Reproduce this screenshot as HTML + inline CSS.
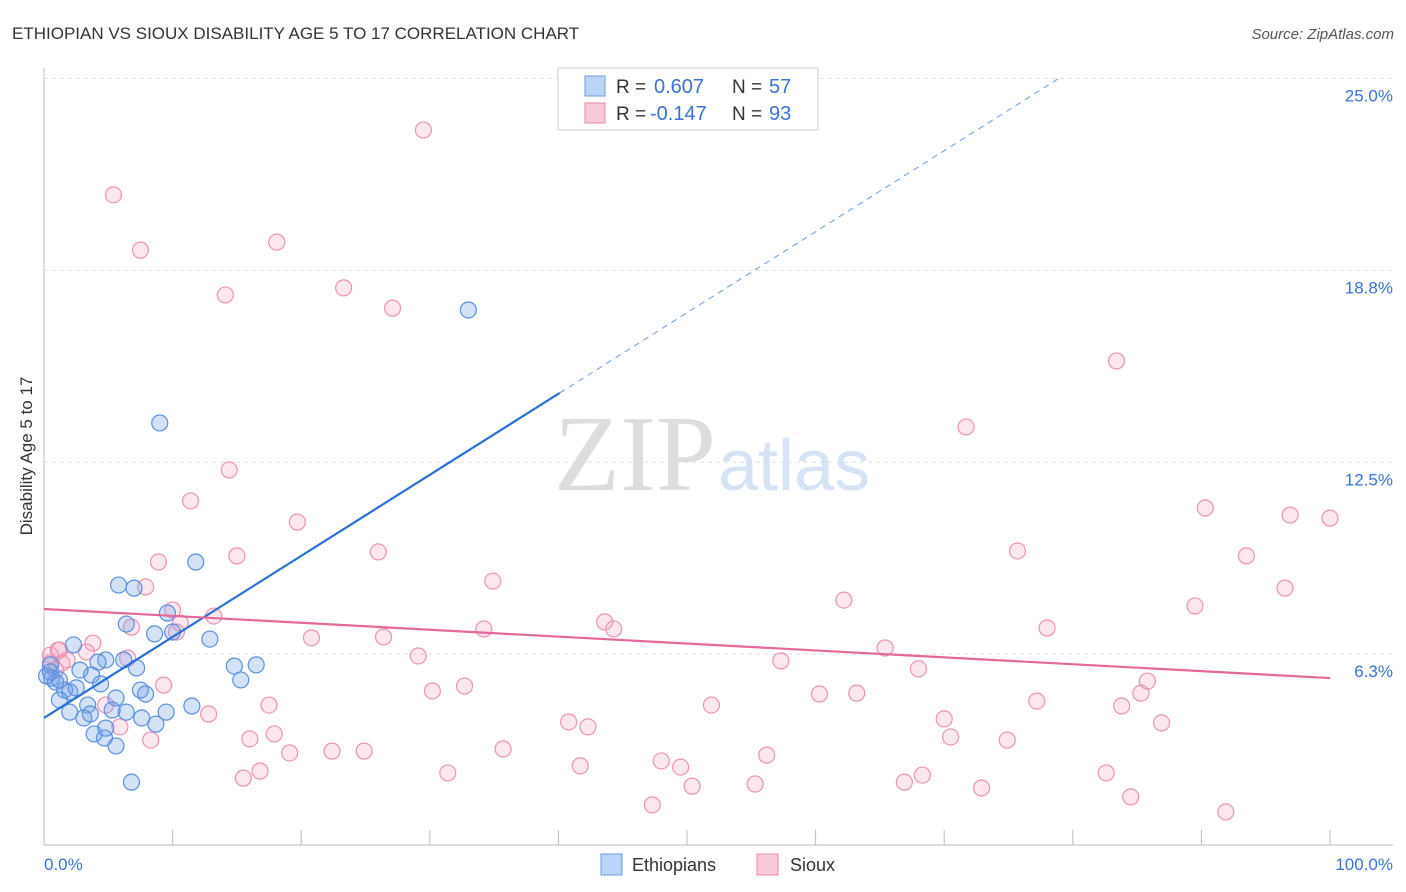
<!DOCTYPE html>
<html><head><meta charset="utf-8"><style>
body{margin:0;background:#fff;font-family:"Liberation Sans",sans-serif;}
#wrap{position:relative;width:1406px;height:892px;overflow:hidden;}
</style></head><body>
<div id="wrap">
<svg id="svg" width="1406" height="892" xmlns="http://www.w3.org/2000/svg">
<text x="12" y="39" font-size="17" fill="#333">ETHIOPIAN VS SIOUX DISABILITY AGE 5 TO 17 CORRELATION CHART</text>
<text x="1394" y="39" font-size="15" fill="#555" font-style="italic" text-anchor="end">Source: ZipAtlas.com</text>
<text x="32" y="456" font-size="17" fill="#333" text-anchor="middle" transform="rotate(-90 32 456)">Disability Age 5 to 17</text>
<text x="716" y="490" font-size="108" fill="#ddd" text-anchor="end" font-family="Liberation Serif,serif">ZIP</text>
<text x="718" y="490" font-size="72" fill="#d6e3f5">atlas</text>
<g id="grid"></g><g id="axes"></g><g id="pts"></g><g id="trend"></g>
<g>
<rect x="558" y="68" width="260" height="62" fill="#fff" stroke="#ccc"/>
<rect x="585" y="76" width="20" height="20" fill="#bcd4f5" stroke="#6b9be0"/>
<rect x="585" y="103" width="20" height="20" fill="#f8cad9" stroke="#e88aab"/>
<text x="616" y="93" font-size="19" fill="#333">R =</text>
<text x="654" y="93" font-size="20" fill="#3a73d6">0.607</text>
<text x="732" y="93" font-size="19" fill="#333">N =</text>
<text x="769" y="93" font-size="20" fill="#3a73d6">57</text>
<text x="616" y="120" font-size="19" fill="#333">R =</text>
<text x="650" y="120" font-size="20" fill="#3a73d6">-0.147</text>
<text x="732" y="120" font-size="19" fill="#333">N =</text>
<text x="769" y="120" font-size="20" fill="#3a73d6">93</text>
</g>
<g>
<rect x="601" y="854" width="21" height="21" fill="#bcd4f5" stroke="#6b9be0"/>
<text x="632" y="871" font-size="18" fill="#333">Ethiopians</text>
<rect x="757" y="854" width="21" height="21" fill="#f8cad9" stroke="#e88aab"/>
<text x="790" y="871" font-size="18" fill="#333">Sioux</text>
</g>
</svg>
</div>
<script>
const yTicks=[6.25,12.5,18.75,25];
const yTickLabels=["6.3%","12.5%","18.8%","25.0%"];
const xTickLabels=["0.0%","100.0%"];
const blueX=[33.0,9.0,11.8,5.8,7.0,9.6,6.4,8.6,10.0,12.9,2.3,14.8,16.5,15.3,7.2,6.2,4.8,4.2,3.7,2.8,0.5,0.6,1.2,1.6,2.0,2.5,4.4,5.6,7.5,7.9,11.5,9.5,8.7,7.6,6.4,5.3,3.4,3.1,3.6,2.0,1.2,3.9,4.7,5.6,4.8,6.8,0.5,0.9,0.2];
const blueY=[17.46,13.78,9.25,8.50,8.40,7.59,7.23,6.91,6.97,6.74,6.55,5.86,5.90,5.41,5.80,6.06,6.06,5.99,5.57,5.73,5.90,5.47,5.41,5.08,5.02,5.15,5.28,4.82,5.08,4.95,4.56,4.36,3.97,4.17,4.36,4.43,4.59,4.17,4.30,4.36,4.76,3.65,3.52,3.26,3.84,2.08,5.67,5.34,5.54];
const pinkX=[29.5,5.4,7.5,18.1,14.1,23.3,27.1,83.4,71.7,14.4,11.4,19.7,90.3,96.9,100,15.0,26.0,75.7,93.5,8.9,34.9,7.9,96.5,62.2,89.5,10.0,13.2,43.6,44.3,78.0,34.2,6.8,10.6,10.3,20.8,26.4,3.8,65.4,1.2,0.5,3.3,1.4,1.8,6.5,57.3,29.1,68.0,9.3,32.7,30.2,60.3,63.2,85.8,85.3,77.2,83.8,17.5,51.9,12.8,4.8,70.0,40.8,42.3,86.9,5.9,70.5,16.0,17.9,8.3,74.9,19.1,22.4,24.9,35.7,56.2,48.0,49.5,41.7,31.4,16.8,15.5,82.6,68.3,66.9,50.4,55.3,72.9,84.5,47.3,91.9,0.5,0.9,1.1];
const pinkY=[23.32,21.21,19.41,19.67,17.95,18.18,17.52,15.80,13.65,12.25,11.24,10.55,11.01,10.78,10.68,9.45,9.58,9.61,9.45,9.25,8.63,8.44,8.40,8.01,7.82,7.69,7.49,7.30,7.07,7.10,7.07,7.13,7.26,6.97,6.78,6.81,6.61,6.45,6.38,6.22,6.32,5.96,6.06,6.12,6.03,6.19,5.77,5.24,5.21,5.05,4.95,4.98,5.37,4.98,4.72,4.56,4.59,4.59,4.30,4.59,4.14,4.04,3.88,4.01,3.88,3.55,3.49,3.65,3.45,3.45,3.03,3.09,3.09,3.16,2.96,2.77,2.57,2.61,2.38,2.44,2.21,2.38,2.31,2.08,1.95,2.02,1.89,1.60,1.34,1.11,5.96,5.73,6.38];
const blueTrend=[4.17,0.264];
const pinkTrend=[7.72,5.47];
const NS="http://www.w3.org/2000/svg";
const X0=44,X1=1330,Y0=846,PPU=30.7;
const sx=v=>X0+(X1-X0)*v/100;
const sy=v=>Y0-v*PPU;
function mk(tag,parent,attrs){const e=document.createElementNS(NS,tag);for(const k in attrs)e.setAttribute(k,attrs[k]);document.getElementById(parent).appendChild(e);return e;}
yTicks.forEach((t,i)=>{
 const l=mk('line','grid',{x1:X0,x2:1393,y1:sy(t),y2:sy(t),stroke:'#ddd','stroke-dasharray':'4,4'});
 
 
 const tx=mk('text','axes',{x:1393,y:sy(t)+23,'font-size':17,fill:'#3a73d6','text-anchor':'end'});
 tx.textContent=yTickLabels[i];
 
 
});
let a=mk('line','axes',{x1:X0,x2:X0,y1:68,y2:845,stroke:'#bbb'});


a=mk('line','axes',{x1:X0,x2:1393,y1:845,y2:845,stroke:'#bbb'});


for(let i=0;i<=10;i++){
 const t=mk('line','axes',{x1:sx(i*10),x2:sx(i*10),y1:830,y2:845,stroke:'#bbb'});
 
 
}
[[0,'start',44],[100,'end',1393]].forEach((d,i)=>{
 const t=mk('text','axes',{x:d[2],y:870,'font-size':17,fill:'#3a73d6','text-anchor':d[1]});
 t.textContent=xTickLabels[i];
 
 
});
pinkX.forEach((x,i)=>{
 const c=mk('circle','pts',{cx:sx(x),cy:sy(pinkY[i]),r:8,fill:'rgba(244,160,190,0.25)',stroke:'#eb93b2','stroke-width':1.2});
 
 
});
blueX.forEach((x,i)=>{
 const c=mk('circle','pts',{cx:sx(x),cy:sy(blueY[i]),r:8,fill:'rgba(110,160,230,0.3)',stroke:'#5b8fe0','stroke-width':1.2});
 
 
});
const bx1=40.1, bx2=(25-blueTrend[0])/blueTrend[1];
let l=mk('line','trend',{x1:sx(0),y1:sy(blueTrend[0]),x2:sx(bx1),y2:sy(blueTrend[0]+blueTrend[1]*bx1),stroke:'#2a6fd6','stroke-width':2.2});


l=mk('line','trend',{x1:sx(bx1),y1:sy(blueTrend[0]+blueTrend[1]*bx1),x2:sx(bx2),y2:sy(25),stroke:'#6b9be0','stroke-width':1,'stroke-dasharray':'6,5'});


l=mk('line','trend',{x1:sx(0),y1:sy(pinkTrend[0]),x2:sx(100),y2:sy(pinkTrend[1]),stroke:'#e5689a','stroke-width':2.2});


</script>
</body></html>
